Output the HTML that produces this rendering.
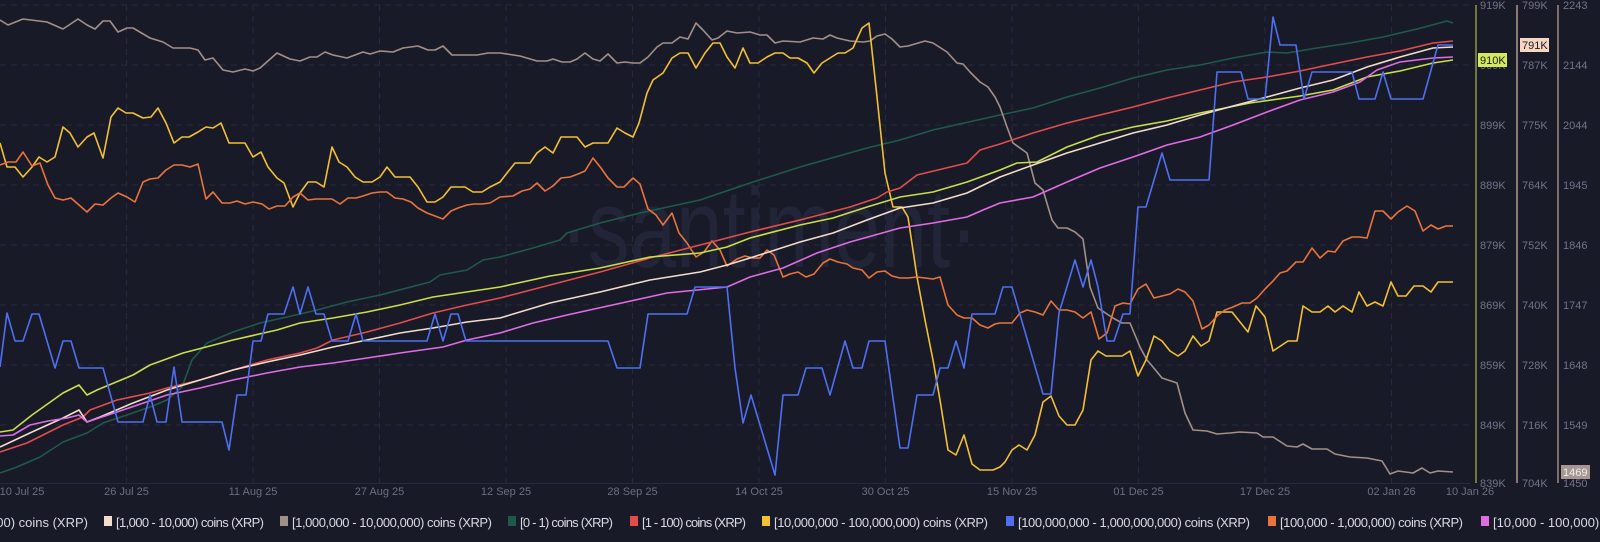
<!DOCTYPE html>
<html><head><meta charset="utf-8"><style>
html,body{margin:0;padding:0;background:#191a28;}
svg{display:block;font-family:"Liberation Sans",sans-serif;}
</style></head><body>
<svg width="1600" height="542" viewBox="0 0 1600 542" xmlns="http://www.w3.org/2000/svg">
<rect width="1600" height="542" fill="#191a28"/>
<text x="560" y="267" font-size="112" fill="#222538" textLength="418" lengthAdjust="spacingAndGlyphs">·santiment·</text>
<g stroke="#262a3a" stroke-width="1" stroke-dasharray="6,5" fill="none">
<line x1="0" y1="5" x2="1470" y2="5"/><line x1="0" y1="65" x2="1470" y2="65"/><line x1="0" y1="125" x2="1470" y2="125"/><line x1="0" y1="185" x2="1470" y2="185"/><line x1="0" y1="245" x2="1470" y2="245"/><line x1="0" y1="305" x2="1470" y2="305"/><line x1="0" y1="365" x2="1470" y2="365"/><line x1="0" y1="425" x2="1470" y2="425"/>
<line x1="126.5" y1="5" x2="126.5" y2="483"/><line x1="253" y1="5" x2="253" y2="483"/><line x1="379.5" y1="5" x2="379.5" y2="483"/><line x1="506" y1="5" x2="506" y2="483"/><line x1="632.5" y1="5" x2="632.5" y2="483"/><line x1="759" y1="5" x2="759" y2="483"/><line x1="885.5" y1="5" x2="885.5" y2="483"/><line x1="1012" y1="5" x2="1012" y2="483"/><line x1="1138.5" y1="5" x2="1138.5" y2="483"/><line x1="1265" y1="5" x2="1265" y2="483"/><line x1="1391.5" y1="5" x2="1391.5" y2="483"/>
</g>
<line x1="0" y1="483.5" x2="1470" y2="483.5" stroke="#262a3a"/>
<g fill="none" stroke-width="1.6" stroke-linejoin="round">
<polyline stroke="#1e5a4a" points="0,473 17,467 40,457 63,442 87,433 103,423 127,415 150,407 167,400 182,387 192,360 207,343 233,332 260,323 287,317 317,310 347,302 380,295 430,282 440,275 467,270 483,260 500,257 533,248 560,240 567,233 600,223 640,213 700,200 750,183 800,167 867,148 900,140 933,130 1000,115 1033,108 1067,97 1100,88 1133,78 1167,70 1200,65 1233,58 1267,52 1287,53 1317,48 1350,43 1383,37 1417,29 1447,21 1453,23"/>
<polyline stroke="#a28f88" points="0,20 8,25 23,19 47,22 63,29 78,19 87,25 95,29 103,21 110,21 118,32 127,28 133,28 150,38 163,42 173,48 190,48 198,50 205,60 213,58 223,70 233,72 245,69 253,71 260,68 277,53 290,59 300,61 310,57 317,57 325,52 333,55 347,58 363,52 370,54 380,51 393,52 403,48 418,46 428,50 435,50 443,46 452,55 477,55 488,53 500,53 520,56 537,61 547,61 553,59 562,62 570,62 577,59 585,53 593,59 600,61 608,54 617,63 625,62 633,63 640,63 648,57 657,47 663,43 672,43 680,37 688,39 696,23 703,30 712,40 718,38 727,31 737,33 750,32 760,35 767,35 775,43 783,41 800,42 813,38 823,39 830,35 837,38 850,41 863,42 870,41 877,36 885,34 892,39 900,47 908,46 925,41 933,43 947,52 957,63 963,64 970,72 980,82 988,87 995,97 1000,107 1007,127 1013,143 1027,153 1035,183 1043,190 1052,220 1058,228 1067,228 1075,232 1083,239 1090,287 1098,308 1113,318 1122,323 1130,323 1140,347 1147,360 1153,367 1162,378 1177,383 1185,413 1193,430 1207,431 1217,434 1230,433 1240,432 1257,433 1263,437 1273,437 1287,446 1297,447 1303,444 1312,449 1327,449 1335,454 1350,457 1367,458 1382,461 1390,474 1398,471 1413,473 1422,468 1430,473 1438,471 1453,472"/>
<polyline stroke="#f2c035" points="0,143 7,167 15,167 23,177 32,167 39,157 47,162 55,157 63,127 70,133 78,147 87,137 94,133 103,158 111,117 118,108 126,113 133,113 143,118 151,117 158,108 166,123 174,143 182,137 189,137 198,132 206,127 213,128 221,123 229,143 245,143 253,157 261,152 268,167 277,178 284,183 293,207 300,193 308,182 316,182 324,187 332,147 339,162 347,167 355,177 363,182 372,182 380,177 387,167 395,177 410,177 418,187 427,202 435,202 443,197 451,187 465,187 473,192 482,192 490,187 500,182 507,173 515,163 522,163 530,163 537,153 545,147 553,153 561,137 577,137 585,147 593,143 608,143 617,128 625,133 633,137 639,123 647,93 653,80 663,73 672,58 680,53 688,53 696,68 705,53 713,43 720,43 727,57 735,68 743,48 750,63 758,63 767,57 775,53 783,53 790,58 798,58 807,63 814,73 822,63 830,58 838,53 845,53 853,48 862,28 869,23 877,97 885,173 893,207 902,207 908,217 917,277 925,320 933,360 940,400 948,450 956,455 964,435 972,464 980,470 993,470 1000,467 1005,462 1012,450 1019,445 1027,450 1035,435 1043,402 1051,396 1059,416 1067,425 1075,425 1083,410 1091,360 1098,351 1106,356 1122,356 1130,351 1138,376 1146,360 1154,336 1162,341 1170,351 1178,356 1185,351 1193,336 1201,346 1209,341 1217,312 1232,312 1248,332 1256,306 1265,317 1273,351 1288,341 1297,341 1303,306 1312,312 1320,312 1328,306 1335,312 1343,306 1352,312 1359,292 1367,306 1375,302 1383,306 1391,282 1398,296 1406,296 1414,286 1423,286 1431,292 1438,282 1453,282"/>
<polyline stroke="#e8743b" points="0,165 8,162 16,162 23,152 32,166 40,163 48,185 55,198 63,200 71,198 79,205 87,212 95,204 103,205 111,198 118,193 127,197 135,202 143,182 150,179 158,178 166,170 174,165 182,165 190,167 198,164 206,199 213,192 222,203 230,203 237,201 245,204 253,202 262,204 269,209 277,206 285,206 293,197 300,193 308,200 316,199 324,199 332,199 340,204 348,198 356,198 363,196 372,193 380,192 387,192 395,198 403,199 411,202 418,208 427,213 435,216 443,219 451,211 458,208 467,205 474,204 482,204 490,203 500,197 513,196 522,191 530,189 537,183 545,191 553,186 561,178 570,177 578,174 585,171 593,158 601,168 608,178 617,187 624,187 633,178 640,184 648,209 656,215 663,225 672,213 679,233 687,243 696,257 704,252 712,241 720,250 727,266 737,259 745,256 753,258 760,258 767,250 774,255 783,277 790,274 798,272 806,277 814,274 823,263 830,259 838,262 847,264 853,268 862,270 869,278 877,272 885,271 892,276 900,278 908,278 917,277 925,278 933,279 940,277 948,305 957,315 964,318 972,318 980,325 988,328 995,324 1000,323 1012,323 1020,313 1027,310 1035,312 1043,315 1051,301 1059,310 1067,310 1075,312 1083,318 1091,312 1099,339 1107,333 1115,306 1123,303 1130,304 1138,289 1146,284 1154,298 1162,296 1170,294 1178,289 1185,292 1193,301 1202,329 1209,325 1218,315 1225,310 1233,307 1242,303 1250,303 1257,298 1265,289 1273,281 1280,273 1287,271 1296,262 1303,262 1312,248 1320,258 1328,251 1335,252 1343,241 1352,237 1359,237 1367,238 1375,211 1383,211 1391,219 1398,212 1407,206 1415,211 1423,231 1431,225 1438,229 1446,226 1453,226"/>
<polyline stroke="#e44c4c" points="0,452 27,443 63,425 83,417 90,410 117,400 150,393 167,388 200,380 233,370 267,360 300,353 317,348 333,340 367,332 400,323 433,313 467,305 500,298 550,285 600,272 650,258 700,245 750,232 800,220 850,207 877,198 887,192 900,188 917,175 967,163 980,150 1000,144 1033,133 1067,123 1100,115 1133,107 1167,98 1200,90 1233,82 1267,77 1300,71 1333,64 1367,57 1400,51 1433,43 1453,41"/>
<polyline stroke="#c8df4a" points="0,432 13,430 32,415 63,393 79,385 87,395 97,390 133,375 150,365 183,353 233,340 277,330 300,323 333,318 367,312 400,305 433,297 500,287 550,276 600,268 650,257 700,253 727,247 750,238 800,225 833,218 867,207 900,197 933,192 967,182 1000,170 1017,163 1037,162 1067,147 1100,135 1133,127 1167,121 1200,113 1250,103 1300,96 1333,90 1367,77 1400,71 1433,63 1453,60"/>
<polyline stroke="#f3dccb" points="0,447 32,432 63,418 79,410 87,422 100,417 133,403 167,390 200,380 233,370 267,362 300,355 333,347 367,340 400,333 433,328 467,322 500,318 550,303 600,292 650,280 700,272 727,265 750,258 800,242 833,233 867,220 900,208 933,203 967,193 1000,177 1033,165 1067,153 1100,143 1133,133 1167,125 1200,115 1233,106 1267,97 1300,88 1333,80 1367,67 1400,57 1433,48 1453,47"/>
<polyline stroke="#e06ce4" points="0,436 13,435 30,425 48,421 67,418 79,415 87,422 117,412 167,395 200,388 233,380 267,373 300,367 333,363 367,358 400,353 443,347 467,340 500,333 533,323 567,315 617,304 667,293 727,287 750,277 783,268 817,253 850,242 900,228 933,223 967,217 983,210 1000,203 1033,197 1067,182 1100,168 1133,157 1167,145 1200,137 1233,125 1267,112 1300,100 1333,92 1360,82 1377,70 1400,62 1433,58 1453,57"/>
<polyline stroke="#4e6ff0" points="0,367 7,313 15,341 23,341 32,314 39,314 47,341 55,368 63,341 71,341 79,368 103,368 118,422 143,422 150,395 157,422 166,422 174,367 182,422 222,422 229,450 237,395 246,395 253,341 261,341 268,314 284,314 293,287 300,314 308,287 316,314 324,314 332,341 348,341 356,314 363,341 427,341 435,314 443,341 451,314 458,314 466,341 500,341 608,341 617,368 640,368 648,314 687,314 695,287 727,287 735,368 743,423 751,395 775,475 783,395 798,395 806,368 822,368 830,395 845,341 853,368 862,368 869,341 885,341 900,448 908,448 917,395 933,395 940,368 948,368 956,341 964,368 972,314 995,314 1003,287 1012,287 1043,394 1051,394 1059,313 1075,260 1083,287 1091,260 1098,287 1107,341 1114,341 1123,314 1130,314 1138,207 1146,207 1162,153 1170,180 1209,180 1217,72 1241,72 1248,99 1265,99 1273,17 1280,45 1296,45 1304,99 1312,72 1352,72 1359,99 1375,99 1383,72 1391,99 1423,99 1438,45 1453,45"/>
</g>
<line x1="1476" y1="5" x2="1476" y2="483" stroke="#8a9a40" stroke-width="1.5"/>
<line x1="1517" y1="5" x2="1517" y2="483" stroke="#b39a8a" stroke-width="1.5"/>
<line x1="1558" y1="5" x2="1558" y2="483" stroke="#a08a80" stroke-width="1.5"/>
<g font-size="11" fill="#6f7486">
<text x="1480" y="9">919K</text><text x="1480" y="69">909K</text><text x="1480" y="129">899K</text><text x="1480" y="189">889K</text><text x="1480" y="249">879K</text><text x="1480" y="309">869K</text><text x="1480" y="369">859K</text><text x="1480" y="429">849K</text><text x="1480" y="487">839K</text>
<text x="1522" y="9">799K</text><text x="1522" y="69">787K</text><text x="1522" y="129">775K</text><text x="1522" y="189">764K</text><text x="1522" y="249">752K</text><text x="1522" y="309">740K</text><text x="1522" y="369">728K</text><text x="1522" y="429">716K</text><text x="1522" y="487">704K</text>
<text x="1563" y="9">2243</text><text x="1563" y="69">2144</text><text x="1563" y="129">2044</text><text x="1563" y="189">1945</text><text x="1563" y="249">1846</text><text x="1563" y="309">1747</text><text x="1563" y="369">1648</text><text x="1563" y="429">1549</text><text x="1563" y="487">1450</text>
</g>
<rect x="1478" y="53" width="29" height="14" fill="#d4ea5a"/><text x="1480" y="64" font-size="11" fill="#1a1b28">910K</text>
<rect x="1520" y="38" width="29" height="14" fill="#f8d6c2"/><text x="1522" y="49" font-size="11" fill="#1a1b28">791K</text>
<rect x="1561" y="465" width="29" height="14" fill="#a89690"/><text x="1563" y="476" font-size="11" fill="#f0f0f0">1469</text>
<g font-size="11" fill="#6a6f80" text-anchor="middle">
<text x="22" y="495">10 Jul 25</text><text x="126.5" y="495">26 Jul 25</text><text x="253" y="495">11 Aug 25</text><text x="379.5" y="495">27 Aug 25</text><text x="506" y="495">12 Sep 25</text><text x="632.5" y="495">28 Sep 25</text><text x="759" y="495">14 Oct 25</text><text x="885.5" y="495">30 Oct 25</text><text x="1012" y="495">15 Nov 25</text><text x="1138.5" y="495">01 Dec 25</text><text x="1265" y="495">17 Dec 25</text><text x="1391.5" y="495">02 Jan 26</text><text x="1470" y="495">10 Jan 26</text>
</g>
<g font-size="13" fill="#d8dae2">
<text x="88" y="527" text-anchor="end">[100 - 1,000) coins (XRP)</text>
<rect x="104" y="516" width="8" height="10" fill="#f3dccb"/><text x="116" y="527" textLength="148">[1,000 - 10,000) coins (XRP)</text>
<rect x="280" y="516" width="8" height="10" fill="#a28f88"/><text x="292" y="527" textLength="200">[1,000,000 - 10,000,000) coins (XRP)</text>
<rect x="508" y="516" width="8" height="10" fill="#1e5a4a"/><text x="520" y="527" textLength="93">[0 - 1) coins (XRP)</text>
<rect x="630" y="516" width="8" height="10" fill="#e44c4c"/><text x="642" y="527" textLength="104">[1 - 100) coins (XRP)</text>
<rect x="762" y="516" width="8" height="10" fill="#f2c035"/><text x="774" y="527" textLength="214">[10,000,000 - 100,000,000) coins (XRP)</text>
<rect x="1006" y="516" width="8" height="10" fill="#4e6ff0"/><text x="1018" y="527" textLength="232">[100,000,000 - 1,000,000,000) coins (XRP)</text>
<rect x="1268" y="516" width="8" height="10" fill="#e8743b"/><text x="1280" y="527" textLength="183">[100,000  - 1,000,000) coins (XRP)</text>
<rect x="1481" y="516" width="8" height="10" fill="#e06ce4"/><text x="1493" y="527">[10,000 - 100,000) coins (XRP)</text>
</g>
</svg>
</body></html>
